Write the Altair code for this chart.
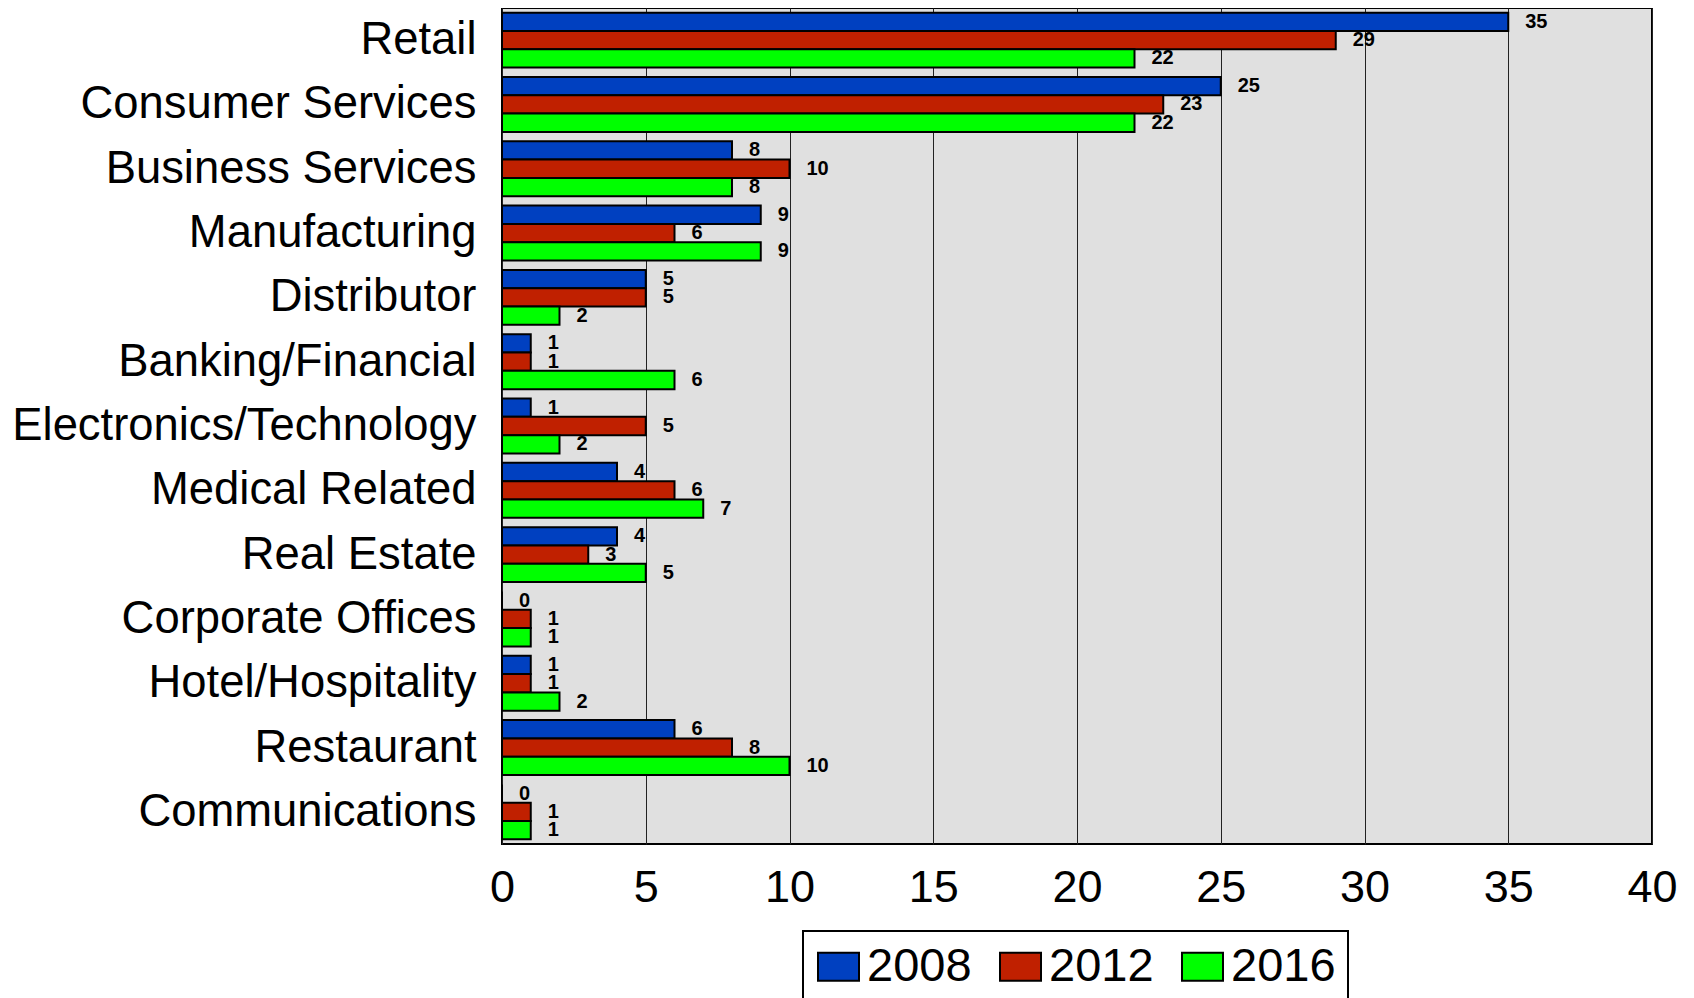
import altair as alt
import pandas as pd

categories = ["Retail", "Consumer Services", "Business Services", "Manufacturing", "Distributor",
              "Banking/Financial", "Electronics/Technology", "Medical Related", "Real Estate",
              "Corporate Offices", "Hotel/Hospitality", "Restaurant", "Communications"]
years = ["2008", "2012", "2016"]
values_2008 = [35, 25, 8, 9, 5, 1, 1, 4, 4, 0, 1, 6, 0]
values_2012 = [29, 23, 10, 6, 5, 1, 5, 6, 3, 1, 1, 8, 1]
values_2016 = [22, 22, 8, 9, 2, 6, 2, 7, 5, 1, 2, 10, 1]
colors = ["#0040C0", "#C02000", "#00FF00"]
x_ticks = [0, 5, 10, 15, 20, 25, 30, 35, 40]

rows = []
for yr, vals in zip(years, [values_2008, values_2012, values_2016]):
    for c, v in zip(categories, vals):
        rows.append({"category": c, "year": yr, "value": v})
df = pd.DataFrame(rows)

FONT = "Liberation Sans"

base = alt.Chart(df).encode(
    y=alt.Y("category:N", sort=categories,
            scale=alt.Scale(paddingInner=0.146, paddingOuter=0.073),
            axis=alt.Axis(title=None, labelFont=FONT, labelFontSize=45.4, labelColor="black",
                          labelPadding=26, ticks=False, domain=False, labelLimit=0)),
    yOffset=alt.YOffset("year:N", sort=years),
)

bars = base.mark_bar(stroke="black", strokeWidth=2, opacity=1).encode(
    x=alt.X("value:Q", scale=alt.Scale(domain=[0, 40], nice=False),
            axis=alt.Axis(values=x_ticks, title=None, labelFont=FONT, labelFontSize=45,
                          labelColor="black", grid=True, gridColor="#222222", gridWidth=1,
                          gridOpacity=1, ticks=False, domain=False, labelPadding=21,
                          labelFlush=False, labelOverlap=False)),
    color=alt.Color("year:N", scale=alt.Scale(domain=years, range=colors),
                    legend=alt.Legend(orient="none", legendX=301, legendY=923,
                                      direction="horizontal", title=None,
                                      labelFont=FONT, labelFontSize=47, labelColor="black",
                                      symbolType="M-1,-0.683H1V0.683H-1Z", symbolSize=1681,
                                      symbolStrokeColor="black", symbolStrokeWidth=2,
                                      symbolOpacity=1, strokeColor="black", fillColor="white",
                                      padding=12, labelOffset=5, columnPadding=24)),
)

labels = base.mark_text(align="left", baseline="middle", dx=17, font=FONT, fontSize=20,
                        fontWeight="bold", color="black").encode(
    x=alt.X("value:Q"),
    text=alt.Text("value:Q"),
)

chart = (bars + labels).properties(
    width=1150, height=836,
    autosize=alt.AutoSizeParams(type="none"),
    padding={"left": 494, "top": 0, "right": 30, "bottom": 154},
).configure_view(
    fill="#E0E0E0", stroke="black", strokeWidth=2
).configure_legend(
    strokeWidth=2
)

chart.save("out.html", embed_options={"renderer": "svg", "actions": False})
